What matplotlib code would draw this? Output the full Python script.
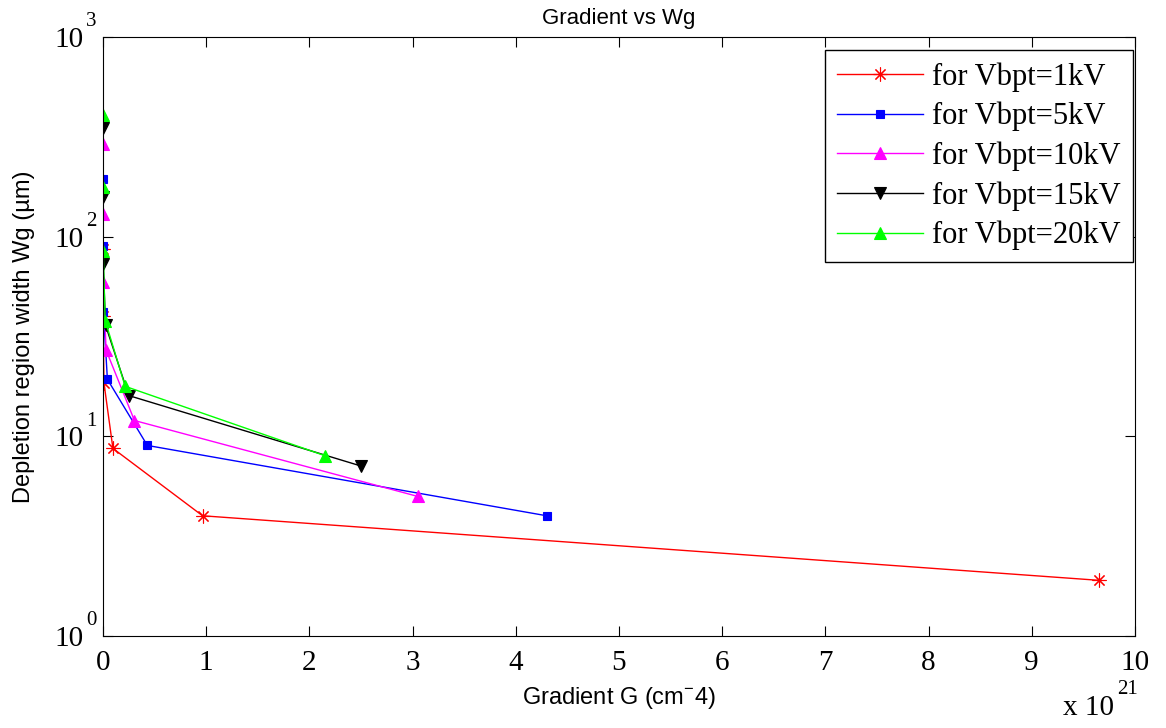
import numpy as np
import matplotlib
matplotlib.use('Agg')
import matplotlib.pyplot as plt
import matplotlib.transforms as mtransforms
from matplotlib.ticker import NullLocator

plt.rcParams['mathtext.fontset'] = 'custom'
plt.rcParams['mathtext.rm'] = 'Liberation Sans'

# gradient G (cm^-4) and depletion width Wg (um) per breakdown voltage
G_1kV = [9.65e21, 9.65e20, 9.65e19, 9.65e18, 9.65e17, 9.65e16]
W_1kV = [1.9, 4.0, 8.7, 18.5, 40, 87]
G_5kV = [4.3e21, 4.3e20, 4.3e19, 4.3e18, 4.3e17, 4.3e16]
W_5kV = [4.0, 9.0, 19.3, 42, 90, 195]
G_10kV = [3.05e21, 3.05e20, 3.05e19, 3.05e18, 3.05e17, 3.05e16]
W_10kV = [5.0, 12.0, 27, 59, 130, 290]
G_15kV = [2.5e21, 2.5e20, 2.5e19, 2.5e18, 2.5e17, 2.5e16]
W_15kV = [7.1, 16, 36, 73, 158, 350]
G_20kV = [2.15e21, 2.15e20, 2.15e19, 2.15e18, 2.15e17, 2.15e16]
W_20kV = [8.0, 17.8, 38, 85, 178, 405]

labels = ['for Vbpt=1kV', 'for Vbpt=5kV', 'for Vbpt=10kV', 'for Vbpt=15kV', 'for Vbpt=20kV']
xticks = [0, 1, 2, 3, 4, 5, 6, 7, 8, 9, 10]
yexp = [0, 1, 2, 3]
scale = 1e21

fig = plt.figure(figsize=(11.66, 7.28), dpi=100)
ax = fig.add_axes([0.0883, 0.1264, 0.8851, 0.8228])

series = [(G_1kV, W_1kV, 'r', (8, 2, 0), 10),
          (G_5kV, W_5kV, 'b', 's', 6),
          (G_10kV, W_10kV, (1, 0, 1), '^', 8),
          (G_15kV, W_15kV, 'k', 'v', 8),
          (G_20kV, W_20kV, (0, 1, 0), '^', 8)]
for (g, w, c, mk, ms), lab in zip(series, labels):
  ax.plot(np.array(g)/scale, w, color=c, marker=mk, markersize=ms,
          markerfacecolor=c, markeredgecolor=c, markeredgewidth=0.8, lw=1, label=lab)

ax.set_yscale('log')
ax.set_xlim(0, 10)
ax.set_ylim(1, 1000)
ax.set_xticks(xticks)
ax.set_yticks([10.0**e for e in yexp])
ax.set_yticklabels(['10' for e in yexp])
ax.yaxis.set_minor_locator(NullLocator())
ax.tick_params(direction='in', length=7, top=True, right=True, labelsize=21)
ax.tick_params(axis='x', pad=10)
ax.tick_params(axis='y', pad=14)
for lbl in ax.get_xticklabels() + ax.get_yticklabels():
  lbl.set_fontfamily('Liberation Serif')

# exponents of the log ticks, raised like the original
exp_tr = mtransforms.offset_copy(ax.get_yaxis_transform(), fig=fig, x=0, y=15, units='dots')
for e in yexp:
  ax.text(-0.0165, 10.0**e, str(e), transform=exp_tr, ha='left', va='center',
          fontsize=15, fontfamily='Liberation Serif')

ax.set_title('Gradient vs Wg', fontsize=16, fontfamily='Liberation Sans', pad=9)
ax.set_xlabel(r'Gradient G (cm$^{-}$4)', fontsize=17, fontfamily='Liberation Sans')
ax.set_ylabel('Depletion region width Wg (\u00b5m)', fontsize=17, fontfamily='Liberation Sans')
ax.xaxis.set_label_coords(0.5, -0.082)
ax.yaxis.set_label_coords(-0.066, 0.5)

fig.text(1063/1166, 1-708/728, 'x 10', fontsize=21, fontfamily='Liberation Serif', va='center')
fig.text(1117/1166, 1-690/728, '21', fontsize=15, fontfamily='Liberation Serif', va='center')

leg = ax.legend(loc='upper right', bbox_to_anchor=(0.998, 0.978),
                prop={'family': 'Liberation Serif', 'size': 22},
                fancybox=False, edgecolor='k', framealpha=1, handlelength=2.8,
                handletextpad=0.3, borderpad=0.4, labelspacing=0.33, borderaxespad=0)
leg.get_frame().set_linewidth(1)

plt.savefig('out.png', dpi=100)
